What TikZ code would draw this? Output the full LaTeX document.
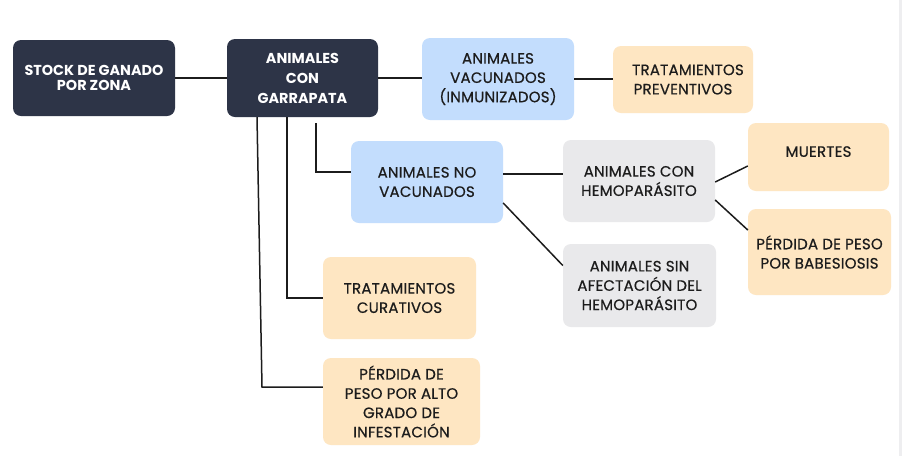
\documentclass[tikz,border=0pt]{standalone}
\usepackage{fontspec}
\setmainfont{Poppins}
\newfontfamily\medfont{Poppins}[FakeBold=0.6, LetterSpace=1.5]
\begin{document}
\begin{tikzpicture}[x=1pt,y=-1pt,
  box/.style={rounded corners=8pt, align=center, inner sep=0pt, text=txt,
    font=\medfont\fontsize{15}{19.3}\selectfont},
  darkbox/.style={box, fill=darkc, text=white, font=\fontsize{14.4}{20}\selectfont\bfseries},
  bluebox/.style={box, fill=bluec},
  peachbox/.style={box, fill=peachc},
  graybox/.style={box, fill=grayc},
  conn/.style={draw=txt, line width=1.5pt}]
\definecolor{darkc}{HTML}{2D3447}
\definecolor{bluec}{HTML}{C3DDFD}
\definecolor{peachc}{HTML}{FEE6C2}
\definecolor{grayc}{HTML}{E9E9EB}
\definecolor{txt}{HTML}{1C1C1C}
\definecolor{stripc}{HTML}{EEEEF0}
\useasboundingbox (0,0) rectangle (902,456);
\fill[white] (0,0) rectangle (902,456);
\fill[stripc] (899,0) rectangle (902,456);

\node[darkbox, minimum width=162pt, minimum height=76pt, font=\fontsize{14.4}{15.8}\selectfont\bfseries] (stock) at (94,78) {STOCK DE GANADO\\POR ZONA};
\node[darkbox, minimum width=151pt, minimum height=78pt] (garr) at (302.5,78) {ANIMALES\\CON\\GARRAPATA};
\node[bluebox, minimum width=152pt, minimum height=82pt] (vac) at (498,79) {ANIMALES\\VACUNADOS\\(INMUNIZADOS)};
\node[peachbox, minimum width=140pt, minimum height=67pt] (prev) at (683,79.5) {\hspace*{10pt}TRATAMIENTOS\\PREVENTIVOS};
\node[bluebox, minimum width=152pt, minimum height=82pt] (novac) at (427,182) {ANIMALES NO\\VACUNADOS};
\node[graybox, minimum width=152pt, minimum height=82pt] (hemo) at (639,181) {ANIMALES CON\\HEMOPARÁSITO};
\node[peachbox, minimum width=141pt, minimum height=68pt, text depth=11pt] (muertes) at (818.5,157) {MUERTES};
\node[peachbox, minimum width=143pt, minimum height=86pt] (babe) at (819.5,252) {PÉRDIDA DE PESO\\POR BABESIOSIS};
\node[graybox, minimum width=153pt, minimum height=83pt] (sin) at (639.5,285.5) {ANIMALES SIN\\AFECTACIÓN DEL\\HEMOPARÁSITO};
\node[peachbox, minimum width=153pt, minimum height=82pt] (cur) at (399.5,298) {TRATAMIENTOS\\CURATIVOS};
\node[peachbox, minimum width=157pt, minimum height=87pt] (alto) at (401.5,401.5) {PÉRDIDA DE\\PESO POR ALTO\\GRADO DE\\INFESTACIÓN};

\coordinate (altoin) at ([yshift=14.5pt]alto.west);
\coordinate (altobend) at ([xshift=-40.5pt]garr.south |- altoin);
\draw[conn] (stock.east) -- (garr.west);
\draw[conn] (garr.east) -- (garr.east -| vac.west);
\draw[conn] (vac.east) -- (vac.east -| prev.west);
\draw[conn] ([xshift=13.5pt,yshift=-6pt]garr.south) |- ([yshift=10pt]novac.west);
\draw[conn] ([xshift=-15.5pt]garr.south) |- (cur.west);
\draw[conn] ([xshift=-45.5pt]garr.south) -- (altobend) -- (altoin);
\draw[conn] ([yshift=8pt]novac.east) -- ([yshift=7pt]hemo.west);
\draw[conn] ([yshift=-21pt]novac.east) -- ([yshift=20pt]sin.west);
\draw[conn] ([yshift=-1pt]hemo.east) -- ([yshift=-9pt]muertes.west);
\draw[conn] ([yshift=-19pt]hemo.east) -- ([yshift=22pt]babe.west);
\end{tikzpicture}
\end{document}
